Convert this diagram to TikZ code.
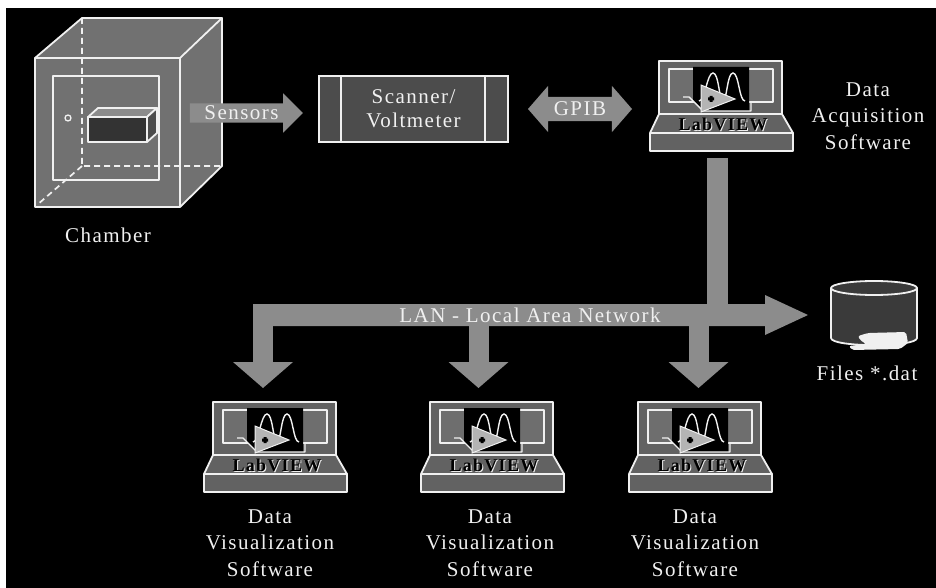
\documentclass[tikz,border=0pt]{standalone}
\usepackage{fontspec}
\setmainfont[LetterSpace=7]{Liberation Serif}
\usetikzlibrary{shapes.arrows,calc}

\definecolor{ink}{HTML}{F0F0F0}
\definecolor{arrowgray}{HTML}{8C8C8C}
\definecolor{cubegray}{HTML}{717171}
\definecolor{boxgray}{HTML}{4C4C4C}
\definecolor{lapgray}{HTML}{626262}
\definecolor{scrgray}{HTML}{6E6E6E}
\definecolor{diskgray}{HTML}{3A3A3A}
\definecolor{playgray}{HTML}{B4B4B4}

\tikzset{
  wline/.style={draw=ink, line width=1.8pt, line join=round},
  lbl/.style={text=ink, font=\fontsize{21}{26.5}\selectfont, align=center, inner sep=0pt},
  arrowtext/.style={text=ink, font=\fontsize{21}{24}\selectfont, fill=arrowgray,
    text height=13pt, text depth=0pt, inner xsep=0pt},
  lvmark/.style={font=\fontsize{18}{18}\selectfont\bfseries, inner sep=0pt},
  holder/.style={inner sep=0pt, draw=none},
  % computer with the LabVIEW icon; origin at the top-left corner of the screen
  laptop/.pic={
    \node[holder, minimum width=143pt, minimum height=90pt] (-box) at (62.5,45) {};
    % keyboard base
    \filldraw[wline, fill=lapgray] (0,53) -- (123,53) -- (134,72) -- (134,90)
      -- (-9,90) -- (-9,72) -- cycle;
    \draw[wline] (-9,72) -- (134,72);
    \node[lvmark, text=ink] at (65,64) {LabVIEW};
    \node[lvmark, text=black] at (64,63) {LabVIEW};
    % screen
    \filldraw[wline, fill=lapgray] (0,0) rectangle (123,53);
    \filldraw[wline, fill=scrgray] (10,8) rectangle (114,41);
    % icon
    \fill[black] (34,6) -- (90,6) -- (90,50) -- (44,50) -- (34,40) -- cycle;
    \draw[wline, line width=1.4pt] (24,36) -- (30,36) -- (44,50) -- (92,50) -- (92,41);
    \draw[ink, line width=1.4pt] (40,40) .. controls (46,40) and (48,12) .. (54,12)
      .. controls (60,12) and (60,40) .. (64,40)
      .. controls (68,40) and (68,12) .. (74,12)
      .. controls (80,12) and (80,40) .. (86,40);
    \filldraw[fill=playgray, draw=ink, line width=1pt] (42,24) -- (42,51) -- (76,38) -- cycle;
    \fill[black] (49,36.5) rectangle (55,39.5) (50.5,35) rectangle (53.5,41);
  }
}

\begin{document}
\begin{tikzpicture}[x=1pt, y=-1pt]
  \useasboundingbox (0,0) rectangle (936,588);
  \fill[white] (0,0) rectangle (936,588);
  \fill[black] (6,8) rectangle (936,588);

  % ---------------- chamber ----------------
  \node[holder, minimum width=187pt, minimum height=189pt] (chamber) at (128.5,112.5) {};
  \fill[cubegray] (35,58) -- (82,18) -- (222,18) -- (222,166) -- (180,207) -- (35,207) -- cycle;
  \draw[ink, line width=1.7pt, dash pattern=on 6pt off 4pt]
    (82,18) -- (82,166) -- (222,166) (82,166) -- (37,205);
  \draw[wline] (53,76) rectangle (159,180);
  \draw[wline, line width=1.3pt] (68,118) circle (3);
  \filldraw[wline, fill=black!80] (88,117) rectangle (147,142);
  \filldraw[wline, fill=arrowgray] (88,117) -- (98,108) -- (157,108) -- (147,117) -- cycle;
  \filldraw[wline, fill=boxgray] (147,117) -- (157,108) -- (157,133) -- (147,142) -- cycle;
  \draw[wline] (35,58) rectangle (180,207);
  \draw[wline] (35,58) -- (82,18) -- (222,18) -- (180,58);
  \draw[wline] (222,18) -- (222,166) -- (180,207);
  \node[lbl] (chamberlbl) at (108,235) {Chamber};

  % ---------------- scanner ----------------
  \node[draw=ink, line width=1.8pt, fill=boxgray, minimum width=189pt, minimum height=66pt,
        text=ink, font=\fontsize{21}{24}\selectfont, align=center, inner sep=0pt]
        (scanner) at (413.5,109) {Scanner/\\Voltmeter};
  \draw[wline] ($(scanner.north west)+(23,0)$) -- ($(scanner.south west)+(23,0)$);
  \draw[wline] ($(scanner.north east)+(-24,0)$) -- ($(scanner.south east)+(-24,0)$);

  % ---------------- block arrows ----------------
  \node[single arrow, arrowtext, minimum height=113pt, minimum width=39pt,
        single arrow head extend=10pt, single arrow tip angle=90, inner ysep=3pt]
        (sensors) at (241.5,113) {Sensors};
  \node[double arrow, arrowtext, minimum height=104pt, minimum width=46pt,
        double arrow head extend=11pt, double arrow tip angle=98, inner ysep=5.5pt]
        (gpib) at (580,109) {GPIB};

  % ---------------- computers ----------------
  \pic (acq) at (659,61) {laptop};
  \node[lbl] (acqlbl) at (868,116) {Data\\Acquisition\\Software};

  \pic (visA) at (213,402) {laptop};
  \pic (visB) at (430,402) {laptop};
  \pic (visC) at (638,402) {laptop};
  \node[lbl] (visAlbl) at (270,543) {Data\\Visualization\\Software};
  \node[lbl] (visBlbl) at (490,543) {Data\\Visualization\\Software};
  \node[lbl] (visClbl) at (695,543) {Data\\Visualization\\Software};

  % ---------------- network ----------------
  \coordinate (lanL) at (253,315);
  \coordinate (lanR) at (808,315);
  \fill[arrowgray] (707,158) rectangle (728,305);
  \fill[arrowgray] (253,304) -- (765,304) -- (765,295) -- (lanR) -- (765,335)
    -- (765,326) -- (253,326) -- cycle;
  \foreach \c in {263,478.5,698.5}{
    \fill[arrowgray] (\c-10,320) rectangle (\c+10,363);
    \fill[arrowgray] (\c-30,362) -- (\c+30,362) -- (\c,388) -- cycle;
  }
  \node[lbl] (lan) at (530,315) {LAN - Local Area Network};

  % ---------------- data files ----------------
  \node[holder, minimum width=90pt, minimum height=66pt] (disk) at (874,318) {};
  \filldraw[wline, fill=diskgray] (831,288) -- (831,338)
    .. controls (831,347.5) and (917,347.5) .. (917,338) -- (917,288);
  \filldraw[wline, fill=diskgray] (874,288) ellipse [x radius=43, y radius=7];
  \fill[ink, rounded corners=2pt] (858,336) -- (868,333) -- (906,332) -- (908,343)
    -- (900,349) -- (852,350) -- (849,346) -- (866,344) -- (860,340) -- cycle;
  \node[lbl] (diskl) at (867,373) {Files *.dat};
\end{tikzpicture}
\end{document}
